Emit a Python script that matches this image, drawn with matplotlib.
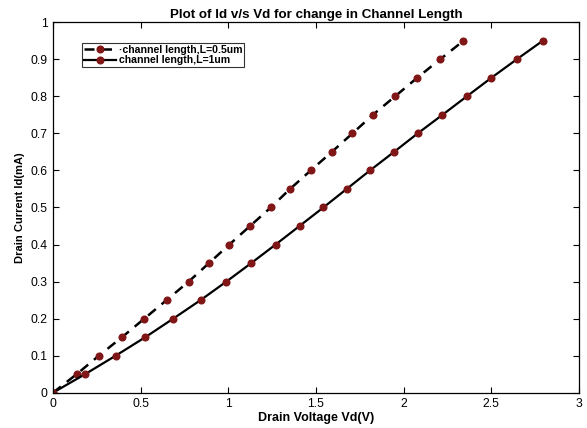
import matplotlib.pyplot as plt
import numpy as np

# drain current (mA), same levels for both channel lengths
id_ma = [0, 0.05, 0.1, 0.15, 0.2, 0.25, 0.3, 0.35, 0.4, 0.45, 0.5,
         0.55, 0.6, 0.65, 0.7, 0.75, 0.8, 0.85, 0.9, 0.95]

# drain voltage (V) for L = 0.5um
vd_short = [0, 0.135, 0.262, 0.394, 0.521, 0.648, 0.774, 0.890, 1.006, 1.124, 1.242,
            1.352, 1.470, 1.590, 1.708, 1.824, 1.951, 2.077, 2.208, 2.341]

# drain voltage (V) for L = 1um
vd_long = [0, 0.183, 0.358, 0.527, 0.686, 0.842, 0.989, 1.131, 1.270, 1.406, 1.542,
           1.675, 1.808, 1.945, 2.080, 2.221, 2.360, 2.500, 2.645, 2.793]

labels = ['·channel length,L=0.5um', 'channel length,L=1um']

plt.rcParams['font.family'] = ['Liberation Sans', 'DejaVu Sans']

fig = plt.figure(figsize=(5.87, 4.28), dpi=100)
ax = fig.add_axes([0.0903, 0.0825, 0.8961, 0.8655])

mcol = '#801616'
ax.plot(vd_short, id_ma, 'k--', lw=1.8, dashes=(4, 3), marker='o', ms=4.8,
        mfc=mcol, mec=mcol, label=labels[0])
ax.plot(vd_long, id_ma, 'k-', lw=1.6, marker='o', ms=4.8,
        mfc=mcol, mec=mcol, label=labels[1])

ax.set_xlim(0, 3)
ax.set_ylim(0, 1)
ax.set_xticks(np.arange(0, 3.01, 0.5))
ax.set_xticklabels(['0', '0.5', '1', '1.5', '2', '2.5', '3'])
ax.set_yticks(np.arange(0, 1.01, 0.1))
ax.set_yticklabels(['0', '0.1', '0.2', '0.3', '0.4', '0.5', '0.6', '0.7', '0.8', '0.9', '1'])
ax.tick_params(direction='in', top=True, right=True, labelsize=8.7, length=4, width=0.8, pad=4)
for s in ax.spines.values():
    s.set_linewidth(0.9)

ax.set_title('Plot of Id v/s Vd for change in Channel Length', fontsize=9.6, fontweight='bold', pad=3)
ax.set_xlabel('Drain Voltage Vd(V)', fontsize=9, fontweight='bold', labelpad=1)
ax.set_ylabel('Drain Current Id(mA)', fontsize=8, fontweight='bold', labelpad=4)

leg = ax.legend(loc='upper left', bbox_to_anchor=(0.055, 0.945),
                prop={'weight': 'bold', 'size': 7.6}, frameon=True, fancybox=False,
                edgecolor='black', handlelength=3.0, borderpad=0.2, labelspacing=0.05,
                handletextpad=0.3, borderaxespad=0)
leg.get_frame().set_linewidth(0.8)

fig.savefig('out.png', dpi=100)
